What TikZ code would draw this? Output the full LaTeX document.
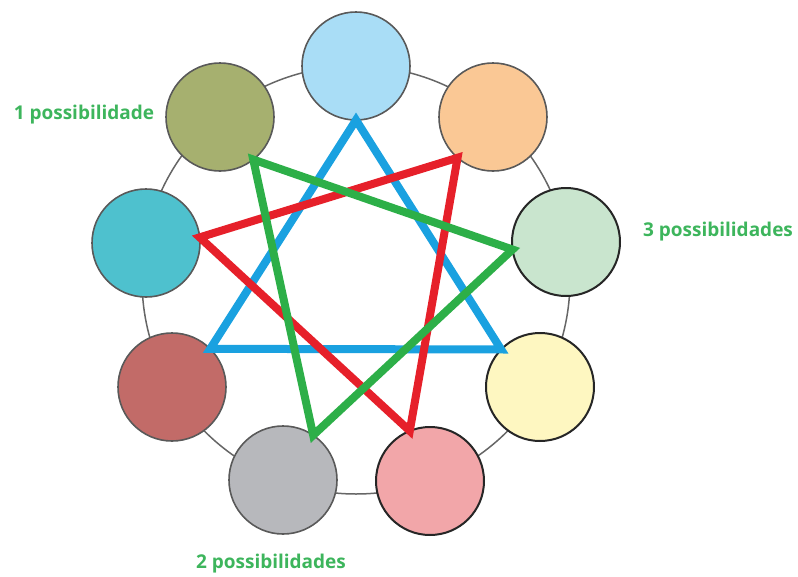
\documentclass[tikz,border=0pt]{standalone}
\usepackage{fontspec}
\setmainfont{Open Sans}
\begin{document}
\begin{tikzpicture}[x=1pt,y=-1pt,
  bub/.style={circle,minimum size=108pt,inner sep=0pt,outer sep=0pt,draw=black!65,line width=1.6pt},
  bubd/.style={bub,draw=black!85,line width=2pt},
  ring/.style={draw=black!60,line width=1.5pt},
  tri/.style={line width=8pt,line join=miter},
  lab/.style={text=labgreen,font=\bfseries\fontsize{19}{22}\selectfont,inner sep=0pt}]
\definecolor{cTop}{HTML}{A9DDF6}
\definecolor{cOrange}{HTML}{FAC895}
\definecolor{cLgreen}{HTML}{C9E5CE}
\definecolor{cYellow}{HTML}{FEF7C1}
\definecolor{cPink}{HTML}{F2A6A9}
\definecolor{cGray}{HTML}{B7B8BC}
\definecolor{cBrown}{HTML}{C26B68}
\definecolor{cTeal}{HTML}{4EC1CE}
\definecolor{cOlive}{HTML}{A6B06F}
\definecolor{lblue}{HTML}{1AA1E0}
\definecolor{lred}{HTML}{E6202A}
\definecolor{lgreen}{HTML}{2DAF48}
\definecolor{labgreen}{HTML}{3DB55C}
\useasboundingbox (0,0) rectangle (798,576);
\coordinate (o) at (356,280);
\draw[ring] (o) circle[radius=214pt];
\node[bub,fill=cTop]    (c1) at (356,66) {};
\node[bub,fill=cOrange] (c2) at (493,117) {};
\node[bubd,fill=cLgreen](c3) at (566,242) {};
\node[bubd,fill=cYellow](c4) at (540,387) {};
\node[bubd,fill=cPink]  (c5) at (430,481) {};
\node[bub,fill=cGray]   (c6) at (283,480) {};
\node[bub,fill=cBrown]  (c7) at (172,387) {};
\node[bub,fill=cTeal]   (c8) at (146,243) {};
\node[bub,fill=cOlive]  (c9) at (220,117) {};
\draw[tri,lblue] (c1.270) -- (c7.45) -- (c4.136) -- cycle;
\draw[tri,lred] (c2.229) -- (c8.6) -- (c5.112) -- cycle;
\draw[tri,lgreen] (c9.308) -- (c3.188) -- (c6.56) -- cycle;
\node[lab] (l1) at (84,115) {1 possibilidade};
\node[lab] (l3) at (718,232) {3 possibilidades};
\node[lab] (l2) at (271,564) {2 possibilidades};
\end{tikzpicture}
\end{document}
